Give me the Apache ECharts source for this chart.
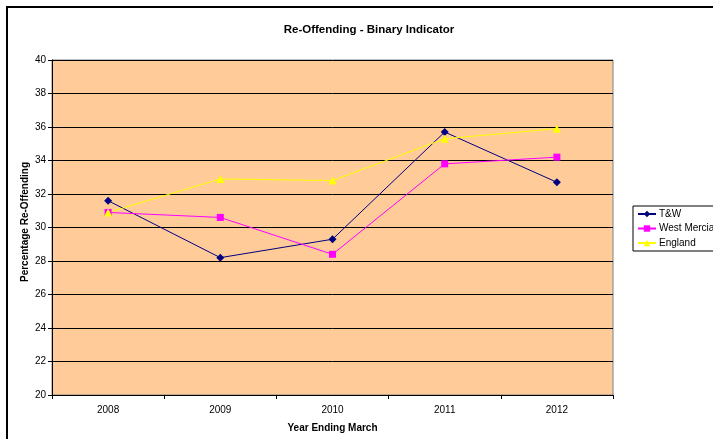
<!DOCTYPE html>
<html><head><meta charset="utf-8">
<script src="https://cdn.jsdelivr.net/npm/echarts@6/dist/echarts.min.js"></script>
<style>html,body{margin:0;padding:0;background:#fff}#c{width:713px;height:439px}</style>
</head><body><div id="c"></div>
<script>
const categories = ['2008','2009','2010','2011','2012'];
const tw = [31.6, 28.2, 29.3, 35.7, 32.7];
const westMercia = [30.9, 30.6, 28.4, 33.8, 34.2];
const england = [30.9, 32.9, 32.8, 35.3, 35.9];
const seriesNames = ['T&W','West Mercia','England'];
const yAxisTitle = 'Percentage Re-Offending';

const font = 'Arial, "Liberation Sans", sans-serif';
const chart = echarts.init(document.getElementById('c'), null, {renderer:'canvas'});
chart.setOption({
  animation:false,
  backgroundColor:'#fff',
  graphic:[
    {type:'rect', shape:{x:7,y:7,width:730,height:460}, style:{fill:'none', stroke:'#000', lineWidth:2}, z:-1},
    {type:'text', x:25, y:222, rotation:Math.PI/2,
      style:{text:yAxisTitle, font:'bold 10px ' + font, fill:'#000', align:'center', verticalAlign:'middle'}}
  ],
  title:{text:'Re-Offending - Binary Indicator', left:364, top:19, textAlign:'center',
    textStyle:{fontFamily:font, fontSize:11.5, fontWeight:'bold', color:'#000'}},
  legend:{
    orient:'vertical', left:633, top:206, padding:[3,20,3,4], itemGap:4.5,
    itemWidth:18, itemHeight:8,
    borderColor:'#000', borderWidth:1, backgroundColor:'#fff',
    textStyle:{fontFamily:font, fontSize:10, color:'#000', padding:[0,0,0,-2]},
    data:seriesNames
  },
  grid:{left:52, top:60, width:561, height:335, show:true, backgroundColor:'#FFCC99', borderColor:'#808080', borderWidth:1},
  xAxis:{type:'category', data:categories, boundaryGap:true,
    name:'Year Ending March', nameLocation:'middle', nameGap:28,
    nameTextStyle:{fontFamily:font, fontSize:10, fontWeight:'bold', color:'#000'},
    axisLine:{lineStyle:{color:'#000', width:1}},
    axisTick:{show:true, length:4, lineStyle:{color:'#000'}},
    axisLabel:{fontFamily:font, fontSize:10, color:'#000', margin:10},
    splitLine:{show:false}},
  yAxis:{type:'value', min:20, max:40, interval:2,
    axisLine:{show:true, lineStyle:{color:'#000', width:1}},
    axisTick:{show:true, length:4, lineStyle:{color:'#000'}},
    axisLabel:{fontFamily:font, fontSize:10, color:'#000', margin:6},
    splitLine:{show:true, lineStyle:{color:'#000', width:1}}},
  series:[
    {name:'T&W', type:'line', data:tw, symbol:'diamond', symbolSize:8,
      lineStyle:{color:'#000080', width:1}, itemStyle:{color:'#000080'}},
    {name:'West Mercia', type:'line', data:westMercia, symbol:'rect', symbolSize:7,
      lineStyle:{color:'#FF00FF', width:1}, itemStyle:{color:'#FF00FF'}},
    {name:'England', type:'line', data:england, symbol:'triangle', symbolSize:8,
      lineStyle:{color:'#FFFF00', width:1}, itemStyle:{color:'#FFFF00'}}
  ]
});
</script></body></html>
